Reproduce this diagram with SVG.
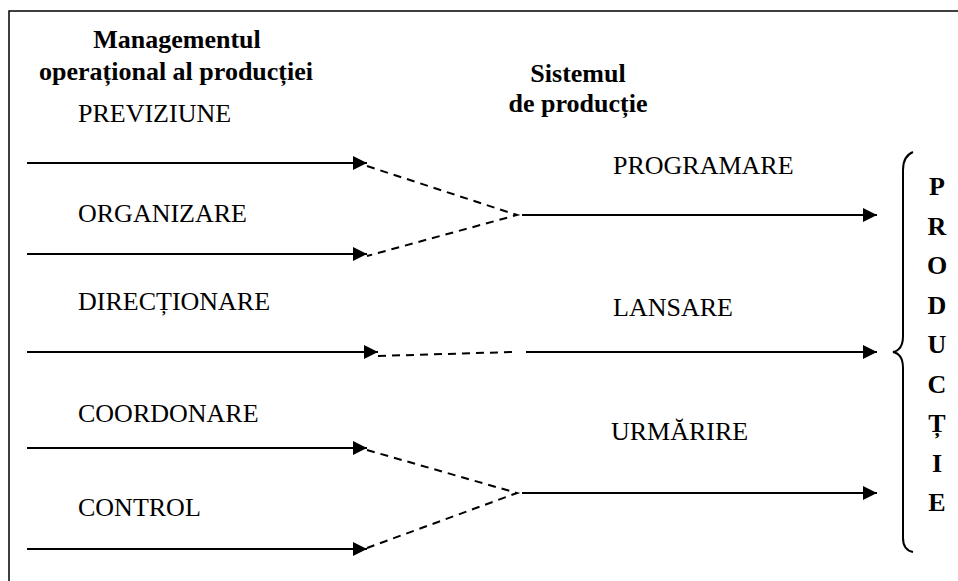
<svg xmlns="http://www.w3.org/2000/svg" width="958" height="581" viewBox="0 0 958 581">
<defs>
<marker id="ah" markerWidth="14" markerHeight="14" refX="14" refY="7" orient="auto" markerUnits="userSpaceOnUse">
<path d="M0,0 L14,7 L0,14 Z" fill="#000"/>
</marker>
<style>
.t{font-family:"Liberation Serif","Times New Roman",serif;font-size:26px;fill:#000}
.b{font-weight:bold}
.s{stroke:#000;stroke-width:2;fill:none}
.d{stroke:#000;stroke-width:2;fill:none;stroke-dasharray:8,6}
</style>
</defs>
<rect width="958" height="581" fill="#fff"/>
<path d="M9,581 V11 H958" stroke="#000" stroke-width="1.5" fill="none"/>
<g id="header-management">
<text class="t b" x="177" y="48" text-anchor="middle">Managementul</text>
<text class="t b" x="176" y="80" text-anchor="middle">operațional al producției</text>
</g>
<g id="header-sistem">
<text class="t b" x="578" y="82" text-anchor="middle">Sistemul</text>
<text class="t b" x="578" y="112" text-anchor="middle">de producție</text>
</g>
<g id="previziune"><text class="t" x="78" y="122">PREVIZIUNE</text></g>
<g id="organizare"><text class="t" x="78" y="222">ORGANIZARE</text></g>
<g id="directionare"><text class="t" x="78" y="310">DIRECȚIONARE</text></g>
<g id="coordonare"><text class="t" x="78" y="422">COORDONARE</text></g>
<g id="control"><text class="t" x="78" y="516">CONTROL</text></g>
<g id="programare"><text class="t" x="613" y="174">PROGRAMARE</text></g>
<g id="lansare"><text class="t" x="613" y="316">LANSARE</text></g>
<g id="urmarire"><text class="t" x="611" y="440">URMĂRIRE</text></g>
<g id="productie">
<path class="s" d="M913,152 Q903,156 903,170 V336 Q903,350 893,352 Q903,354 903,368 V538 Q903,550 913,552" stroke-width="1.5"/>
<g class="t b" text-anchor="middle">
<text x="937" y="195">P</text>
<text x="937" y="235">R</text>
<text x="937" y="274">O</text>
<text x="937" y="314">D</text>
<text x="937" y="353">U</text>
<text x="937" y="393">C</text>
<text x="937" y="432">Ț</text>
<text x="937" y="472">I</text>
<text x="937" y="511">E</text>
</g>
</g>
<g id="connectors">
<line class="s" x1="27" y1="163" x2="367" y2="163" marker-end="url(#ah)"/>
<line class="s" x1="27" y1="254" x2="367" y2="254" marker-end="url(#ah)"/>
<line class="s" x1="27" y1="352" x2="378" y2="352" marker-end="url(#ah)"/>
<line class="s" x1="27" y1="448" x2="367" y2="448" marker-end="url(#ah)"/>
<line class="s" x1="27" y1="549" x2="367" y2="549" marker-end="url(#ah)"/>
<path class="d" d="M367,166 L517,215 L367,256"/>
<path class="d" d="M378,356 L512,352"/>
<path class="d" d="M367,450 L517,493 L367,548"/>
<line class="s" x1="522" y1="215" x2="877" y2="215" marker-end="url(#ah)"/>
<line class="s" x1="526" y1="352" x2="877" y2="352" marker-end="url(#ah)"/>
<line class="s" x1="522" y1="493" x2="877" y2="493" marker-end="url(#ah)"/>
</g>
</svg>
